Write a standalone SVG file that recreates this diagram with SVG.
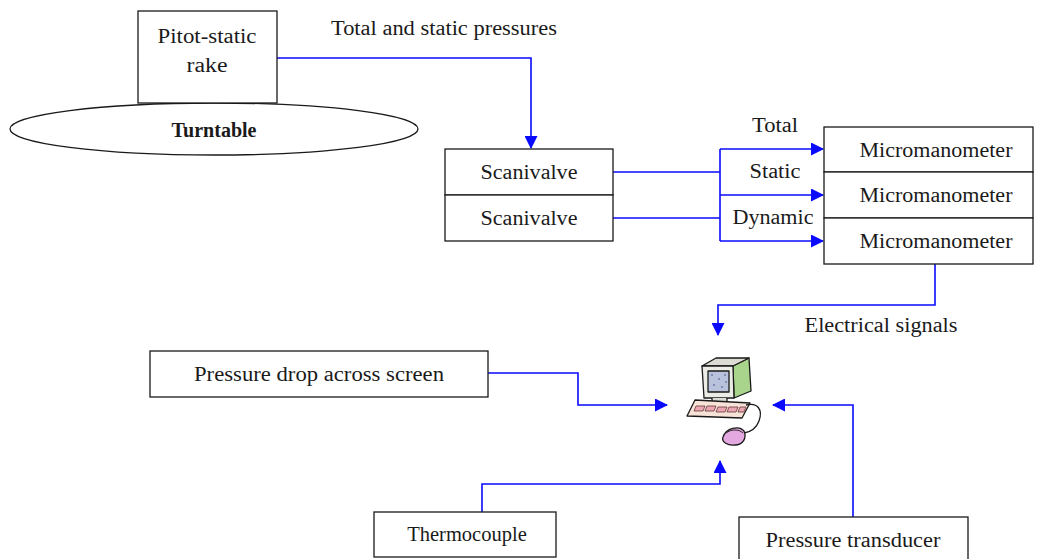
<svg xmlns="http://www.w3.org/2000/svg" width="1040" height="559" viewBox="0 0 1040 559">
  <style>
    .box { fill: #ffffff; stroke: #1a1a1a; stroke-width: 1.3; }
    .lbl { font-family: "Liberation Serif", "Times New Roman", serif; font-size: 20.5px; fill: #1a1a1a; text-anchor: middle; }
    .bold { font-weight: bold; }
    .wire { fill: none; stroke: #0a0aff; stroke-width: 1.6; }
  </style>
  <defs>
    <marker id="arrow" markerWidth="13" markerHeight="13" refX="12" refY="6.5" orient="auto" markerUnits="userSpaceOnUse">
      <path d="M0,0 L13,6.5 L0,13 Z" fill="#0a0aff"/>
    </marker>
  </defs>
  <rect width="1040" height="559" fill="#ffffff"/>

  <!-- connectors -->
  <g id="connectors">
    <path class="wire" d="M277,58 H531 V148" marker-end="url(#arrow)"/>
    <path class="wire" d="M613,172 H720"/>
    <path class="wire" d="M613,218 H720"/>
    <path class="wire" d="M720,149 V241"/>
    <path class="wire" d="M720,149 H823" marker-end="url(#arrow)"/>
    <path class="wire" d="M720,195 H823" marker-end="url(#arrow)"/>
    <path class="wire" d="M720,241 H823" marker-end="url(#arrow)"/>
    <path class="wire" d="M935,264 V305 H718 V335" marker-end="url(#arrow)"/>
    <path class="wire" d="M488,373 H578 V405 H667" marker-end="url(#arrow)"/>
    <path class="wire" d="M482,512 V484 H720 V461" marker-end="url(#arrow)"/>
    <path class="wire" d="M853,517 V405 H773" marker-end="url(#arrow)"/>
    <text class="lbl" x="444" y="35" textLength="226" lengthAdjust="spacingAndGlyphs">Total and static pressures</text>
    <text class="lbl" x="775" y="132" textLength="46" lengthAdjust="spacingAndGlyphs">Total</text>
    <text class="lbl" x="775" y="178" textLength="51" lengthAdjust="spacingAndGlyphs">Static</text>
    <text class="lbl" x="773" y="224" textLength="81" lengthAdjust="spacingAndGlyphs">Dynamic</text>
    <text class="lbl" x="881" y="332" textLength="153" lengthAdjust="spacingAndGlyphs">Electrical signals</text>
  </g>

  <!-- turntable with rake on top -->
  <g id="turntable">
    <ellipse class="box" cx="214" cy="129" rx="204" ry="26"/>
    <text class="lbl bold" x="214" y="137" textLength="85" lengthAdjust="spacingAndGlyphs">Turntable</text>
  </g>
  <g id="pitot-rake">
    <rect class="box" x="138" y="11" width="139" height="92"/>
    <text class="lbl" x="207" y="43" textLength="99" lengthAdjust="spacingAndGlyphs">Pitot-static</text>
    <text class="lbl" x="207" y="72" textLength="41" lengthAdjust="spacingAndGlyphs">rake</text>
  </g>

  <g id="scanivalve-1">
    <rect class="box" x="445" y="149" width="168" height="46"/>
    <text class="lbl" x="529" y="179" textLength="97" lengthAdjust="spacingAndGlyphs">Scanivalve</text>
  </g>
  <g id="scanivalve-2">
    <rect class="box" x="445" y="195" width="168" height="46"/>
    <text class="lbl" x="529" y="225" textLength="97" lengthAdjust="spacingAndGlyphs">Scanivalve</text>
  </g>

  <g id="micromanometer-1">
    <rect class="box" x="824" y="127" width="209" height="45"/>
    <text class="lbl" x="936" y="157" textLength="153" lengthAdjust="spacingAndGlyphs">Micromanometer</text>
  </g>
  <g id="micromanometer-2">
    <rect class="box" x="824" y="172" width="209" height="46"/>
    <text class="lbl" x="936" y="202" textLength="153" lengthAdjust="spacingAndGlyphs">Micromanometer</text>
  </g>
  <g id="micromanometer-3">
    <rect class="box" x="824" y="218" width="209" height="46"/>
    <text class="lbl" x="936" y="248" textLength="153" lengthAdjust="spacingAndGlyphs">Micromanometer</text>
  </g>

  <g id="pressure-drop">
    <rect class="box" x="150" y="351" width="338" height="46"/>
    <text class="lbl" x="319" y="381" textLength="250" lengthAdjust="spacingAndGlyphs">Pressure drop across screen</text>
  </g>
  <g id="thermocouple">
    <rect class="box" x="374" y="512" width="182" height="45"/>
    <text class="lbl" x="467" y="541">Thermocouple</text>
  </g>
  <g id="pressure-transducer">
    <rect class="box" x="739" y="517" width="229" height="45"/>
    <text class="lbl" x="853" y="547" textLength="175" lengthAdjust="spacingAndGlyphs">Pressure transducer</text>
  </g>

  <!-- computer clip-art -->
  <g id="computer" stroke="#1a1a1a" stroke-width="1.3" stroke-linejoin="round">
    <!-- monitor side (green) -->
    <path d="M733,366 L749,358 L751,391 L734,398 Z" fill="#a8d48c"/>
    <!-- monitor top -->
    <path d="M702,366 L716,358 L749,358 L733,366 Z" fill="#dcdcd4"/>
    <!-- monitor front -->
    <path d="M702,366 L733,366 L734,398 L704,398 Z" fill="#ececE6"/>
    <rect x="708" y="371" width="21" height="21" fill="#b8c2da"/>
    <g fill="#7c8cb2" stroke="none">
      <rect x="711" y="374" width="2" height="2"/><rect x="718" y="378" width="2" height="2"/>
      <rect x="724" y="374" width="2" height="2"/><rect x="713" y="384" width="2" height="2"/>
      <rect x="721" y="386" width="2" height="2"/><rect x="725" y="381" width="2" height="2"/>
    </g>
    <!-- stand -->
    <path d="M712,398 L712,402 L727,402 L727,398" fill="#dcdcd4"/>
    <!-- keyboard -->
    <path d="M695,400 L750,403 L742,418 L687,416 Z" fill="#f6e2d6"/>
    <g fill="#eaa6b2" stroke="#6a3a3a" stroke-width="0.8">
      <path d="M696,406 L705,406 L703,411 L694,411 Z"/>
      <path d="M707,406 L716,406 L714,411 L705,411 Z"/>
      <path d="M718,407 L727,407 L725,412 L716,412 Z"/>
      <path d="M729,407 L738,407 L736,412 L727,412 Z"/>
      <path d="M740,407 L746,407 L744,412 L738,412 Z"/>
    </g>
    <!-- cable -->
    <path d="M746,405 C758,402 763,410 759,421 C756,429 750,432 744,433" fill="none"/>
    <!-- mouse -->
    <path d="M723,437 C726,428 739,425 744,431 C747,438 743,445 735,445 C728,446 721,442 723,437 Z" fill="#e3a8df"/>
    <path d="M726,433 C731,429 739,429 743,433" fill="none" stroke-width="0.9"/>
  </g>
</svg>
